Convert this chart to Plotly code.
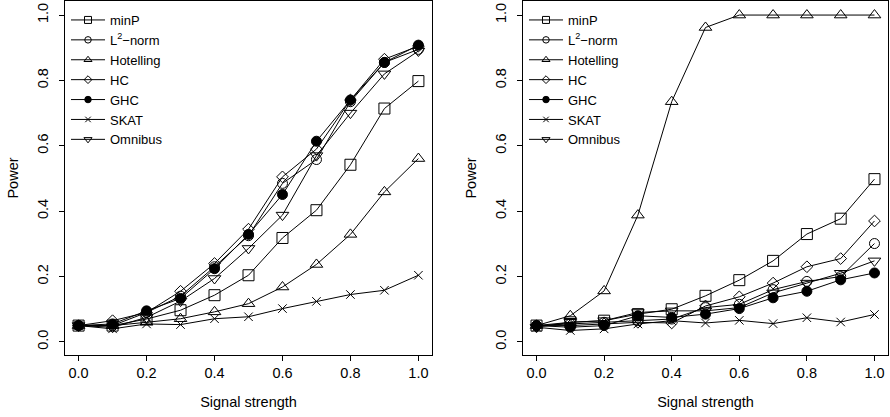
import plotly.graph_objects as go

signal = [0.0, 0.1, 0.2, 0.3, 0.4, 0.5, 0.6, 0.7, 0.8, 0.9, 1.0]
methods = ["minP", "L<sup>2</sup>\u2212norm", "Hotelling", "HC", "GHC", "SKAT", "Omnibus"]

# Left panel
left_minP      = [0.050, 0.050, 0.070, 0.097, 0.143, 0.204, 0.318, 0.403, 0.542, 0.714, 0.798]
left_L2        = [0.050, 0.050, 0.090, 0.140, 0.230, 0.325, 0.485, 0.558, 0.735, 0.855, 0.895]
left_Hotelling = [0.050, 0.050, 0.060, 0.071, 0.092, 0.117, 0.168, 0.237, 0.329, 0.459, 0.561]
left_HC        = [0.050, 0.065, 0.090, 0.155, 0.240, 0.345, 0.505, 0.590, 0.740, 0.865, 0.905]
left_GHC       = [0.050, 0.055, 0.095, 0.133, 0.224, 0.329, 0.451, 0.614, 0.740, 0.855, 0.908]
left_SKAT      = [0.050, 0.040, 0.055, 0.053, 0.071, 0.077, 0.102, 0.124, 0.145, 0.158, 0.204]
left_Omnibus   = [0.050, 0.045, 0.075, 0.125, 0.194, 0.286, 0.388, 0.570, 0.700, 0.820, 0.890]

# Right panel
right_minP      = [0.050, 0.060, 0.065, 0.085, 0.100, 0.141, 0.189, 0.248, 0.330, 0.377, 0.498]
right_L2        = [0.050, 0.055, 0.060, 0.065, 0.070, 0.105, 0.115, 0.160, 0.185, 0.200, 0.301]
right_Hotelling = [0.050, 0.080, 0.156, 0.388, 0.735, 0.962, 1.000, 1.000, 1.000, 1.000, 1.000]
right_HC        = [0.050, 0.050, 0.055, 0.060, 0.058, 0.110, 0.138, 0.180, 0.230, 0.255, 0.370]
right_GHC       = [0.050, 0.045, 0.050, 0.080, 0.075, 0.085, 0.102, 0.135, 0.155, 0.190, 0.211]
right_SKAT      = [0.045, 0.035, 0.040, 0.055, 0.065, 0.058, 0.066, 0.056, 0.074, 0.061, 0.084]
right_Omnibus   = [0.045, 0.060, 0.065, 0.090, 0.095, 0.095, 0.105, 0.150, 0.180, 0.210, 0.248]

tick_vals = [0, 0.2, 0.4, 0.6, 0.8, 1.0]
tick_text = ["0.0", "0.2", "0.4", "0.6", "0.8", "1.0"]

left_series = [left_minP, left_L2, left_Hotelling, left_HC, left_GHC, left_SKAT, left_Omnibus]
right_series = [right_minP, right_L2, right_Hotelling, right_HC, right_GHC, right_SKAT, right_Omnibus]

symbols = ["square-open", "circle-open", "triangle-up-open", "diamond-open", "circle", "x-thin-open", "triangle-down-open"]
sizes = [11, 10, 11, 9, 10, 8.5, 11]
legend_sizes = [7, 6.5, 7, 6, 6.5, 5.5, 7]

FONT = "Liberation Sans, Arial, Helvetica, sans-serif"
FS = 14.5

fig = go.Figure()

for series, xa, ya, leg in [(left_series, "x", "y", "legend"),
                            (right_series, "x2", "y2", "legend2")]:
    for name, vals, sym, sz in zip(methods, series, symbols, sizes):
        fig.add_trace(go.Scatter(
            x=signal, y=vals, mode="lines+markers", name=name,
            xaxis=xa, yaxis=ya, showlegend=False,
            line=dict(color="black", width=1),
            marker=dict(symbol=sym, size=sz, color="black",
                        line=dict(color="black", width=1)),
        ))
    # legend entries (no data drawn)
    for name, sym, lsz in zip(methods, symbols, legend_sizes):
        fig.add_trace(go.Scatter(
            x=[None], y=[None], mode="lines+markers", name=name,
            xaxis=xa, yaxis=ya, showlegend=True, legend=leg,
            line=dict(color="black", width=1),
            marker=dict(symbol=sym, size=lsz, color="black",
                        line=dict(color="black", width=1)),
        ))

W, H = 890, 417
xdom1 = [65 / W, 432 / W]
xdom2 = [523 / W, 888 / W]
ydom = [(H - 355) / H, (H - 1) / H]

axis_common = dict(
    showgrid=False, zeroline=False, showline=True, mirror=True,
    linecolor="black", linewidth=1, ticks="outside", ticklen=5,
    tickwidth=1, tickcolor="black",
    tickfont=dict(family=FONT, size=FS, color="black"),
)

xt = dict(tickvals=tick_vals, ticktext=tick_text, range=[-0.04, 1.04])
yt = dict(tickvals=tick_vals, ticktext=tick_text, range=[-0.04, 1.043],
          tickangle=-90, ticklabelstandoff=5)

xtitle = dict(text="Signal strength", font=dict(family=FONT, size=FS, color="black"), standoff=16)
ytitle = dict(text="Power", font=dict(family=FONT, size=FS, color="black"), standoff=13)

legend_common = dict(xanchor="left", yanchor="top",
                     bgcolor="rgba(0,0,0,0)", borderwidth=0, itemwidth=34,
                     font=dict(family=FONT, size=13, color="black"),
                     tracegroupgap=0, itemclick=False, itemdoubleclick=False)

fig.update_layout(
    width=W, height=H,
    margin=dict(l=0, r=0, t=0, b=0),
    paper_bgcolor="white", plot_bgcolor="white",
    font=dict(family=FONT, size=FS, color="black"),
    xaxis=dict(domain=xdom1, anchor="y", title=xtitle, **xt, **axis_common),
    yaxis=dict(domain=ydom, anchor="x", title=ytitle, **yt, **axis_common),
    xaxis2=dict(domain=xdom2, anchor="y2", title=xtitle, **xt, **axis_common),
    yaxis2=dict(domain=ydom, anchor="x2", title=ytitle, **yt, **axis_common),
    legend=dict(x=66 / W, y=1 - 5 / H, **legend_common),
    legend2=dict(x=524 / W, y=1 - 5 / H, **legend_common),
)

fig.write_html("out.html", config={"displayModeBar": False},
               post_script="document.body.style.margin='0';document.body.style.padding='0';")
